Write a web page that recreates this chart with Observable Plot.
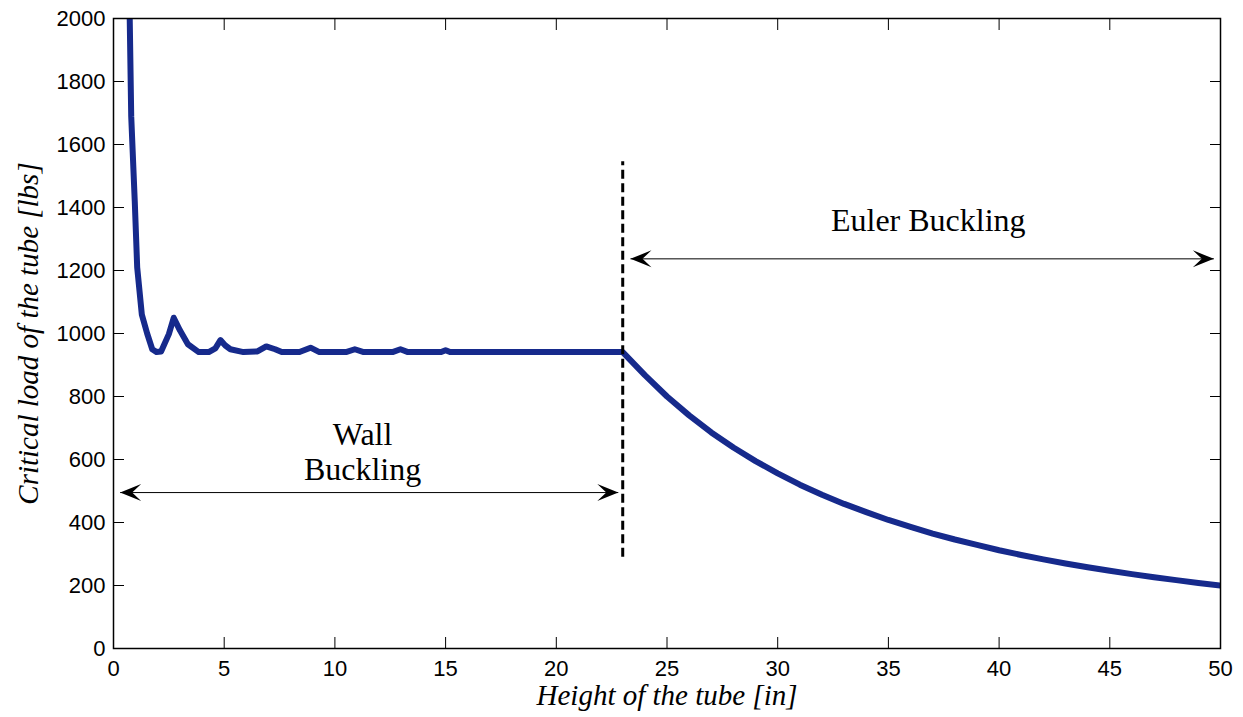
<!DOCTYPE html>
<html><head><meta charset="utf-8">
<script src="https://cdn.jsdelivr.net/npm/d3@7"></script>
<script src="https://cdn.jsdelivr.net/npm/@observablehq/plot@0.6"></script>
<style>body{margin:0;background:#fff}</style>
</head><body><div id="chart"></div>
<script>
// Wall buckling region (height in inches, critical load in lbs)
const wallHeight = [0.70, 0.80, 0.96, 1.07, 1.28, 1.52, 1.75, 1.94, 2.15, 2.50, 2.72, 3.00, 3.36, 3.85, 4.30, 4.60, 4.83, 5.05, 5.28, 5.87, 6.50, 6.90, 7.30, 7.60, 8.40, 8.90, 9.30, 10.50, 10.90, 11.30, 12.60, 12.96, 13.30, 14.80, 15.00, 15.20, 23.00];
const wallLoad   = [2150, 1690, 1420, 1210, 1060, 1000, 950, 941, 943, 998, 1050, 1010, 966, 941, 941, 953, 979, 962, 950, 941, 943, 959, 950, 941, 941, 955, 941, 941, 950, 941, 941, 950, 941, 941, 947, 941, 941];
// Euler buckling region
const eulerHeight = [23, 24, 25, 26, 27, 28, 29, 30, 31, 32, 33, 34, 35, 36, 37, 38, 39, 40, 41, 42, 43, 44, 45, 46, 47, 48, 49, 50];
const eulerLoad   = [941, 868, 800, 740, 686, 638, 595, 556, 520, 488, 459, 433, 408, 386, 365, 346, 329, 312, 297, 283, 270, 258, 247, 236, 226, 217, 208, 200];

const xTicks = [0, 5, 10, 15, 20, 25, 30, 35, 40, 45, 50];
const yTicks = [0, 200, 400, 600, 800, 1000, 1200, 1400, 1600, 1800, 2000];

// Annotations
const boundaryHeight = [23];
const boundaryLoadLow = 290;
const boundaryLoadHigh = 1545;
const arrowStart = [0.3, 23.35];
const arrowEnd = [22.8, 49.7];
const arrowLoad = [495, 1237];
const labelText = ["Wall\nBuckling", "Euler Buckling"];
const labelHeight = [11.25, 36.8];
const labelLoad = [627, 1361];

const curve = [
  ...wallHeight.map((h, i) => ({h, p: wallLoad[i]})),
  ...eulerHeight.slice(1).map((h, i) => ({h, p: eulerLoad[i + 1]}))
];
const arrows = arrowStart.map((s, i) => ({x1: s, x2: arrowEnd[i], y: arrowLoad[i]}));
const labels = labelText.map((t, i) => ({t, x: labelHeight[i], y: labelLoad[i]}));

const headRight = {draw(ctx) { ctx.moveTo(0, 0); ctx.lineTo(-21, -8.5); ctx.lineTo(-12, 0); ctx.lineTo(-21, 8.5); ctx.closePath(); }};
const headLeft = {draw(ctx) { ctx.moveTo(0, 0); ctx.lineTo(21, -8.5); ctx.lineTo(12, 0); ctx.lineTo(21, 8.5); ctx.closePath(); }};

const serif = "'Liberation Serif', 'Times New Roman', serif";
const blank = () => "";
const plain = d => String(d);

const chart = Plot.plot({
  width: 1243,
  height: 717,
  marginLeft: 113,
  marginRight: 23,
  marginTop: 18,
  marginBottom: 69,
  style: {fontFamily: "Arimo, 'Liberation Sans', Arial, sans-serif", fontSize: "22px", color: "#000", background: "#fff"},
  x: {domain: [0, 50]},
  y: {domain: [0, 2000]},
  marks: [
    Plot.axisX(xTicks, {anchor: "bottom", tickSize: 0, tickPadding: 12, fontSize: 22, tickFormat: plain, label: null}),
    Plot.axisY(yTicks, {anchor: "left", tickSize: 0, tickPadding: 8, fontSize: 22, tickFormat: plain, label: null}),
    Plot.axisX(xTicks, {anchor: "bottom", tickSize: -11, tickFormat: blank, label: null}),
    Plot.axisX(xTicks, {anchor: "top", tickSize: -11, tickFormat: blank, label: null}),
    Plot.axisY(yTicks, {anchor: "left", tickSize: -11, tickFormat: blank, label: null}),
    Plot.axisY(yTicks, {anchor: "right", tickSize: -11, tickFormat: blank, label: null}),
    Plot.line(curve, {x: "h", y: "p", stroke: "#162a8c", strokeWidth: 6, strokeLinejoin: "round", strokeLinecap: "butt", clip: true}),
    Plot.ruleX(boundaryHeight, {x: d => d, y1: boundaryLoadLow, y2: boundaryLoadHigh, stroke: "#000", strokeWidth: 3, strokeDasharray: "9,4.5"}),
    Plot.link(arrows, {x1: "x1", x2: "x2", y1: "y", y2: "y", stroke: "#000", strokeWidth: 1}),
    Plot.dot(arrows, {x: "x2", y: "y", symbol: headRight, fill: "#000", stroke: null}),
    Plot.dot(arrows, {x: "x1", y: "y", symbol: headLeft, fill: "#000", stroke: null}),
    Plot.text(labels, {x: "x", y: "y", text: "t", fontFamily: serif, fontSize: 32, lineHeight: 1.1, fill: "#000"}),
    Plot.text(["Height of the tube [in]"], {frameAnchor: "bottom", dy: 47, textAnchor: "middle", lineAnchor: "middle", fontFamily: serif, fontStyle: "italic", fontSize: 29, fill: "#000"}),
    Plot.text(["Critical load of the tube [lbs]"], {frameAnchor: "left", dx: -85, rotate: -90, textAnchor: "middle", lineAnchor: "middle", fontFamily: serif, fontStyle: "italic", fontSize: 29, fill: "#000"}),
    Plot.frame({stroke: "#000", strokeWidth: 1.5})
  ]
});
document.getElementById("chart").appendChild(chart);
</script>
</body></html>
